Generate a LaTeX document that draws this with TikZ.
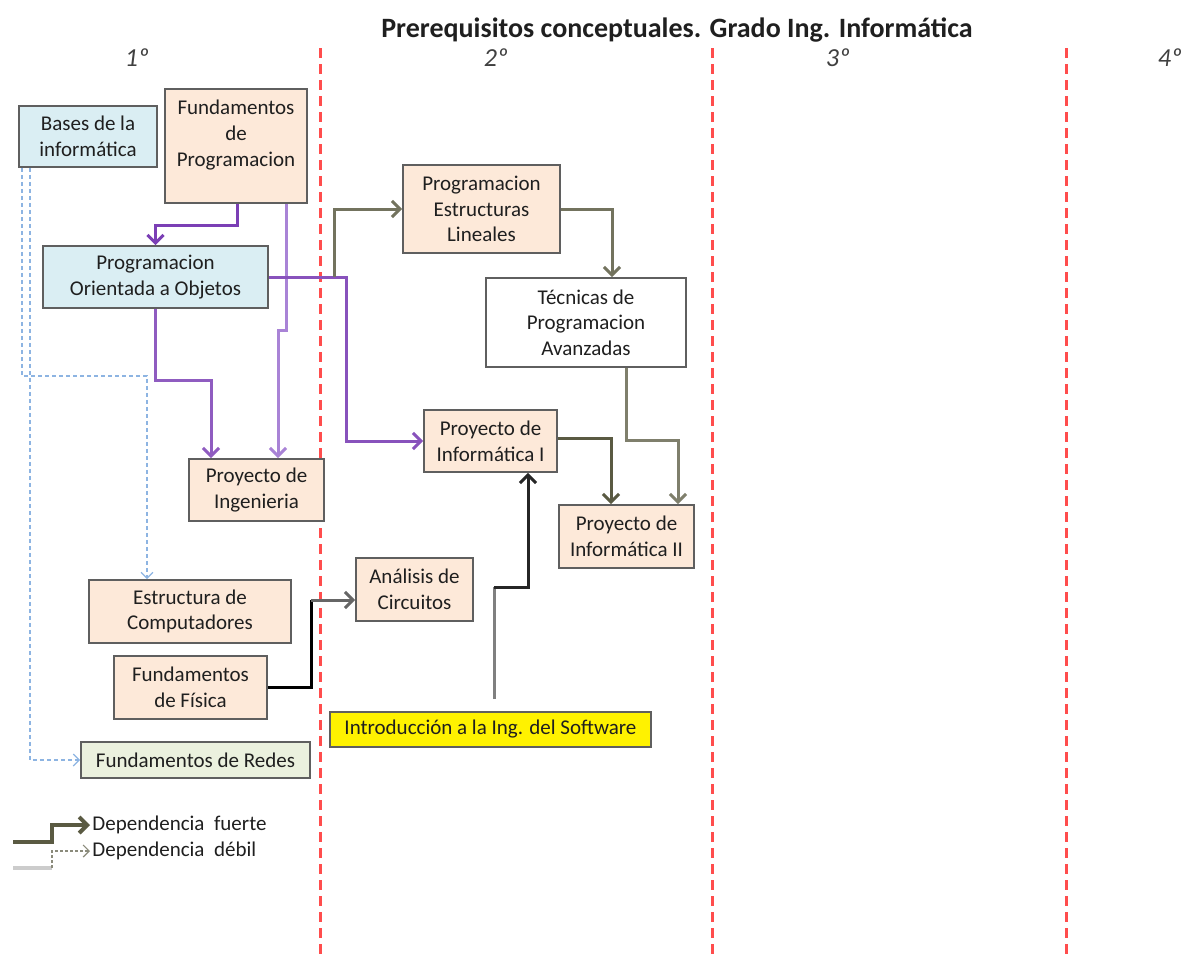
\documentclass[tikz,border=0pt]{standalone}
\usepackage{fontspec}
\setmainfont{Carlito}
\usetikzlibrary{arrows.meta}
\definecolor{lblue}{HTML}{DAEEF3}
\definecolor{peach}{HTML}{FDE9D9}
\definecolor{lgreen}{HTML}{EBF1DE}
\definecolor{boxline}{HTML}{5F5F5F}
\definecolor{txt}{HTML}{1F1F1F}
\definecolor{purp}{HTML}{7B3FB5}
\definecolor{purpL}{HTML}{A983D6}
\definecolor{olive}{HTML}{5A5A42}
\definecolor{oliveL}{HTML}{7F7F6C}
\definecolor{dblue}{HTML}{8DB4E2}
\definecolor{redd}{HTML}{FF4D4D}
\definecolor{yeargray}{HTML}{404040}
\tikzset{
  box/.style={draw=boxline, line width=0.9pt, inner sep=1pt, align=center,
    font=\fontsize{10.5}{12.8}\selectfont, text=txt},
  bluebox/.style={box, fill=lblue},
  peachbox/.style={box, fill=peach},
  strong/.style={line width=1.5pt, -{Straight Barb[length=4pt,width=8pt]}},
  weak/.style={line width=0.6pt, dash pattern=on 2pt off 1.5pt, -{Straight Barb[length=3pt,width=6pt]}},
  yearlbl/.style={font=\fontsize{13}{15}\selectfont\itshape, text=yeargray},
  divider/.style={draw=redd, line width=1.5pt, dash pattern=on 5pt off 3pt},
  legtext/.style={anchor=west, font=\fontsize{10.5}{12}\selectfont, text=txt, inner sep=1pt}
}
\begin{document}
\begin{tikzpicture}[x=0.5pt,y=-0.5pt]
\useasboundingbox (0,0) rectangle (1189,959);

% title and year labels
\node[font=\fontsize{14}{16}\selectfont\bfseries, text=txt] (title) at (677,30) {Prerequisitos conceptuales. Grado Ing. Informática};
\node[yearlbl] (y1) at (137,58) {1º};
\node[yearlbl] (y2) at (496,58) {2º};
\node[yearlbl] (y3) at (838,58) {3º};
\node[yearlbl] (y4) at (1170,58) {4º};

% dividers
\coordinate (d1t) at (320,48); \coordinate (d1b) at (320,959);
\coordinate (d2t) at (712,48); \coordinate (d2b) at (712,959);
\coordinate (d3t) at (1066,48); \coordinate (d3b) at (1066,959);
\draw[divider] (d1t) -- (d1b);
\draw[divider] (d2t) -- (d2b);
\draw[divider] (d3t) -- (d3b);

% boxes
\node[bluebox, minimum width=69pt, minimum height=30.5pt] (bi) at (88,136.5) {Bases de la\\informática};
\node[peachbox, minimum width=71pt, minimum height=57pt] (fp) at (236,146) {Fundamentos\\de\\Programacion\\\mbox{}};
\node[bluebox, minimum width=112.5pt, minimum height=31pt] (poo) at (155.5,277) {Programacion\\Orientada a Objetos};
\node[peachbox, minimum width=67.5pt, minimum height=31pt] (pi) at (256.5,490) {Proyecto de\\Ingenieria};
\node[peachbox, minimum width=78.5pt, minimum height=44pt] (pel) at (481.5,209) {Programacion\\Estructuras\\Lineales};
\node[box, fill=white, minimum width=100pt, minimum height=44.5pt] (tpa) at (586,322.5) {Técnicas de\\Programacion\\Avanzadas};
\node[peachbox, minimum width=66.5pt, minimum height=31pt] (pinf1) at (490.5,441) {Proyecto de\\Informática I};
\node[peachbox, minimum width=67.5pt, minimum height=31.5pt] (pinf2) at (626.5,536.5) {Proyecto de\\Informática II};
\node[peachbox, minimum width=58.5pt, minimum height=31.5pt] (ac) at (414.5,589.5) {Análisis de\\Circuitos};
\node[peachbox, minimum width=101pt, minimum height=31.5pt] (ec) at (190,611.5) {Estructura de\\Computadores};
\node[peachbox, minimum width=76.5pt, minimum height=31.5pt] (ff) at (190.5,687.5) {Fundamentos\\de Física};
\node[box, fill=lgreen, minimum width=114.5pt, minimum height=18pt] (fr) at (195.5,760) {Fundamentos de Redes};
\node[box, fill=yellow, minimum width=160.5pt, minimum height=17.5pt] (is) at (490.5,729.5) {Introducción a la Ing. del Software};

% weak (blue dashed) dependencies
\draw[weak, dblue] ([xshift=-33pt]bi.south) -- ++(0,208) -| ([xshift=-21.5pt]ec.north);
\draw[weak, dblue] ([xshift=-29pt]bi.south) |- (fr.west);

% purple dependencies
\draw[strong, purp] ([xshift=0.5pt]fp.south) -- ++(0,22) -| (poo.north);
\draw[strong, purpL] ([xshift=25pt]fp.south) -- ++(0,127) -- ++(-8,0) -- ([xshift=10.75pt]pi.north);
\draw[strong, purp!85!white] (poo.south) -- ++(0,72) -| ([xshift=-22.75pt]pi.north);
\draw[strong, purp!90!white] (poo.east) -- ++(78,0) |- (pinf1.west);

% olive dependencies
\coordinate (j1) at (334,277);
\draw[strong, olive!85!white] (j1) |- (pel.west);
\draw[strong, olive!85!white] (pel.east) -| ([xshift=13pt]tpa.north);
\draw[strong, oliveL] ([xshift=20pt]tpa.south) -- ++(0,73) -| ([xshift=25.75pt]pinf2.north);
\draw[strong, olive] ([yshift=1.5pt]pinf1.east) -| ([xshift=-7.75pt]pinf2.north);

% black dependencies
\coordinate (c1) at (311,600);
\draw[line width=1.5pt, black] (ff.east) -| (c1);
\draw[strong, black!60] (c1) -- ([yshift=-5.25pt]ac.west);
\coordinate (c2) at (494,587);
\draw[line width=1.5pt, black!50] ([xshift=1.75pt,yshift=6pt]is.north) -- (c2);
\draw[strong, black!85] (c2) -| ([xshift=18.75pt]pinf1.south);

% legend
\node[legtext] (lt1) at (90,825) {Dependencia\ \ fuerte};
\node[legtext] (lt2) at (90,851) {Dependencia\ \ débil};
\coordinate (l1) at (13,842);
\coordinate (l2) at (13,868);
\draw[line width=2pt, olive, -{Straight Barb[length=4pt,width=8pt]}] (l1) -- ++(39,0) |- (lt1.west);
\draw[line width=2pt, black!20] (l2) -- ++(39,0) coordinate (l3);
\draw[line width=0.6pt, olive!70, dash pattern=on 1.5pt off 1pt, -{Straight Barb[length=3pt,width=6pt]}] (l3) |- (lt2.west);
\end{tikzpicture}
\end{document}
